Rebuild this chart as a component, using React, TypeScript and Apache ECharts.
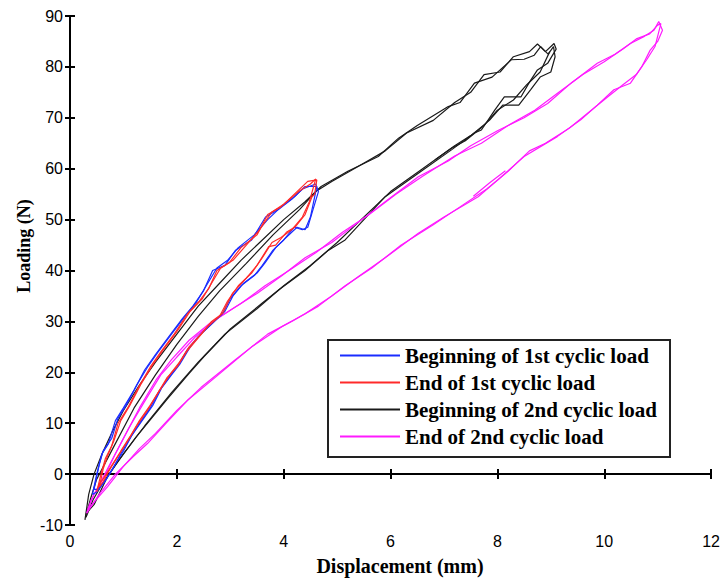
import React, { useEffect, useRef } from "react";
import * as echarts from "echarts";

const xTicks = [0, 2, 4, 6, 8, 10, 12];
const yTicks = [-10, 0, 10, 20, 30, 40, 50, 60, 70, 80, 90];

const seriesNames = [
  "Beginning of 1st cyclic load",
  "End of 1st cyclic load",
  "Beginning of 2nd cyclic load",
  "End of 2nd cyclic load",
];
const seriesColors = ["#1a2cff", "#ff2a2a", "#1a1a1a", "#ff1aff"];

// Beginning of 1st cyclic load (two traced cycles)
const blueCycleA = [
  [0.42, -4], [0.5, 0], [0.6, 4], [0.72, 6], [0.85, 10.5], [1.0, 13], [1.2, 16.5], [1.4, 20.5],
  [1.6, 23.5], [1.85, 27], [2.1, 30.5], [2.3, 33], [2.5, 36], [2.67, 40], [2.9, 41], [3.1, 44],
  [3.4, 46], [3.66, 50.5], [3.9, 52], [4.15, 54], [4.35, 56], [4.6, 57], [4.65, 55.5],
  [4.55, 52], [4.45, 48.5], [4.35, 48], [4.2, 48.5], [4.0, 46], [3.8, 44], [3.6, 41], [3.45, 39],
  [3.2, 37], [3.0, 34.5], [2.85, 31.5], [2.6, 29], [2.4, 27], [2.2, 24.5], [2.0, 21], [1.85, 19],
  [1.68, 16.5], [1.5, 13], [1.3, 10], [1.12, 7], [0.95, 4], [0.8, 1], [0.65, -1.5], [0.5, -3.5], [0.42, -4],
];
const blueCycleB = [
  [0.45, -3], [0.55, 2], [0.62, 4.5], [0.78, 7], [0.9, 11], [1.05, 13.5], [1.25, 17.5], [1.45, 21],
  [1.65, 24], [1.9, 27.5], [2.15, 31], [2.35, 33.5], [2.55, 37], [2.75, 40.5], [2.95, 42], [3.15, 44.5],
  [3.45, 47], [3.7, 50], [3.95, 52.5], [4.2, 54.5], [4.4, 56.5], [4.62, 56.5],
  [4.5, 50.5], [4.4, 48], [4.25, 48.5], [4.05, 46.5], [3.85, 44.5], [3.65, 41.5], [3.5, 39.5], [3.25, 37.5],
  [3.05, 35], [2.9, 32], [2.65, 29.5], [2.45, 27.5], [2.25, 25], [2.05, 21.5], [1.9, 19.5], [1.72, 17],
  [1.55, 13.5], [1.35, 10.5], [1.15, 7.5], [1.0, 4.5], [0.82, 1.5], [0.68, -1], [0.52, -3], [0.45, -3],
];

// End of 1st cyclic load
const redCycleA = [
  [0.5, -3.5], [0.58, 0], [0.66, 3], [0.78, 5.5], [0.9, 10], [1.08, 13], [1.28, 17], [1.5, 21],
  [1.7, 24], [1.95, 27.5], [2.2, 31.5], [2.42, 34], [2.6, 36.5], [2.75, 40], [2.98, 41.5], [3.2, 44.5],
  [3.5, 47], [3.7, 51], [3.95, 52.5], [4.2, 55], [4.45, 57.5], [4.62, 57.8], [4.58, 55],
  [4.53, 54.5], [4.4, 51], [4.22, 48.6], [4.05, 47.5], [3.85, 45], [3.72, 44.7], [3.5, 41], [3.3, 38.5],
  [3.04, 35.5], [2.86, 31.6], [2.65, 30], [2.45, 27.5], [2.23, 25], [2.05, 22], [1.9, 20], [1.68, 16.5],
  [1.5, 13.5], [1.3, 10.5], [1.12, 7.3], [0.95, 4.5], [0.8, 2], [0.65, -0.5], [0.56, -1.8], [0.5, -3.5],
];
const redCycleB = [
  [0.55, -2.5], [0.62, 1], [0.7, 3.5], [0.82, 6.5], [0.95, 10.5], [1.12, 13.5], [1.32, 17.5], [1.55, 21.5],
  [1.75, 24.5], [2.0, 28], [2.25, 32], [2.48, 34.5], [2.65, 37.5], [2.82, 40.5], [3.05, 42], [3.3, 45],
  [3.55, 48], [3.78, 51.5], [4.0, 53], [4.28, 55.5], [4.5, 57], [4.6, 58],
  [4.48, 53.5], [4.35, 50.5], [4.15, 48], [3.95, 46.5], [3.78, 45.5], [3.6, 42.5], [3.4, 39.5], [3.15, 37],
  [2.95, 34], [2.8, 31], [2.58, 29], [2.38, 26.5], [2.18, 24], [2.0, 21], [1.82, 19], [1.62, 15.5],
  [1.45, 12.5], [1.25, 9.5], [1.08, 6.5], [0.9, 3.5], [0.75, 1], [0.62, -1.5], [0.55, -2.5],
];

// Beginning of 2nd cyclic load
const blackCycleA = [
  [0.28, -9], [0.35, -4], [0.45, 0], [0.6, 4], [0.8, 8.5], [1.0, 12.5], [1.3, 17.5], [1.6, 22],
  [2.0, 27.5], [2.4, 33], [2.8, 37.5], [3.2, 42], [3.6, 46], [4.0, 50], [4.4, 53.5], [4.7, 56.5],
  [5.2, 59.5], [5.77, 62.4], [6.15, 66], [6.5, 68.5], [7.08, 72.2], [7.3, 73], [7.57, 76.8], [7.9, 78],
  [8.26, 81.4], [8.5, 81.5], [8.69, 82.3], [8.81, 84], [8.9, 83], [9.06, 84.6], [9.1, 83.5],
  [8.94, 80.7], [8.75, 79.4], [8.6, 77], [8.44, 74.1], [8.13, 74.1], [7.95, 71.5], [7.7, 67.6],
  [7.57, 67], [7.14, 63.7], [6.52, 59.1], [5.9, 54.5], [5.15, 46], [4.84, 44], [4.4, 40], [3.91, 36.2],
  [3.6, 33.6], [3.0, 28.5], [2.5, 23], [2.23, 19.8], [1.8, 14.5], [1.24, 7.3], [0.9, 2.5], [0.6, -2],
  [0.43, -5.1], [0.3, -8.5],
];
const blackCycleB = [
  [0.3, -8], [0.38, -5], [0.5, -1], [0.8, 5], [1.2, 13], [1.6, 19.5], [2.0, 25.5], [2.4, 31],
  [2.8, 36], [3.3, 41.4], [3.8, 47], [4.3, 52], [4.6, 55.5], [4.9, 57.5], [5.4, 60.5], [5.9, 63.5],
  [6.3, 67], [6.8, 69.5], [7.2, 73], [7.5, 75], [7.75, 78.5], [8.05, 79], [8.3, 82], [8.6, 83],
  [8.75, 84.5], [8.95, 82.5], [9.05, 84], [9.08, 82],
  [9.0, 79], [8.8, 78], [8.62, 75.5], [8.4, 72.5], [8.1, 72.5], [7.85, 69.5], [7.5, 66.5], [7.2, 64.5],
  [6.6, 60], [6.0, 55.5], [5.4, 49.5], [5.0, 45.5], [4.5, 41], [4.0, 37], [3.5, 32.5], [2.9, 27.5],
  [2.4, 22], [1.9, 16], [1.4, 9.5], [1.0, 4], [0.7, -0.5], [0.45, -6], [0.32, -7.5],
];
const blackTrace = [
  [6.83, 61.7], [7.14, 64], [7.4, 65.5], [7.75, 68.5], [8.0, 71.5], [8.3, 73.5], [8.55, 76.5], [8.8, 79], [8.98, 83],
];

// End of 2nd cyclic load
const magentaCycleA = [
  [0.31, -7.7], [0.4, -5], [0.56, -1.8], [0.8, 3], [1.05, 8], [1.3, 13], [1.61, 18.5], [1.9, 22.5],
  [2.23, 26.3], [2.6, 29.5], [3.1, 32.9], [3.5, 35.5], [3.97, 39], [4.4, 42.5], [4.9, 45.5], [5.4, 49.5],
  [5.96, 54], [6.52, 58.4], [7.08, 61.5], [7.5, 64.5], [8.01, 67.5], [8.5, 70], [8.94, 72.8], [9.4, 77],
  [9.87, 80.7], [10.2, 82.5], [10.49, 84.6], [10.75, 86], [10.93, 87.2], [11.02, 88.9], [11.09, 87.2],
  [11.0, 85], [10.86, 83.3], [10.7, 80], [10.49, 76.8], [10.18, 75.5], [9.87, 72.5], [9.56, 69.6],
  [9.12, 66.3], [8.5, 62.4], [8.35, 61], [8.01, 57.8], [7.64, 54.5], [7.0, 50.5], [6.52, 47.3],
  [5.9, 42.5], [5.4, 38.8], [4.9, 35], [4.4, 31.5], [3.97, 29], [3.4, 25], [2.73, 19.1], [2.2, 14.5],
  [1.8, 10], [1.45, 6], [1.18, 3.4], [0.85, 0], [0.56, -3.8], [0.31, -7.7],
];
const magentaCycleB = [
  [0.33, -7], [0.45, -4], [0.62, -1], [0.85, 4], [1.1, 9], [1.38, 14], [1.7, 19.5], [2.0, 23],
  [2.35, 27], [2.75, 30.5], [3.2, 33.5], [3.65, 37], [4.1, 40], [4.6, 43.5], [5.1, 47.5], [5.6, 51],
  [6.1, 55], [6.6, 58.5], [7.2, 62.5], [7.7, 65], [8.2, 68.5], [8.7, 71.5], [9.15, 75], [9.6, 78.5],
  [10.0, 81], [10.35, 83.5], [10.6, 85.5], [10.85, 86.5], [11.0, 88.2], [11.06, 88.5],
  [10.95, 84], [10.8, 81.5], [10.6, 78.5], [10.35, 76.5], [10.05, 74], [9.7, 71], [9.35, 68],
  [8.9, 65], [8.6, 63.5], [8.2, 59.5], [7.8, 56], [7.3, 52.5], [6.8, 49], [6.2, 45], [5.65, 40.5],
  [5.15, 37], [4.65, 33], [4.15, 30], [3.7, 27.5], [3.1, 22.5], [2.45, 17], [2.0, 12.5], [1.6, 8],
  [1.3, 5], [1.0, 1.5], [0.7, -2.5], [0.45, -5.5], [0.33, -7],
];
const magentaTrace = [
  [7.55, 54.6], [7.85, 57.2], [8.15, 59.6],
];

const seriesData = [
  { idx: 0, data: blueCycleA },
  { idx: 0, data: blueCycleB },
  { idx: 1, data: redCycleA },
  { idx: 1, data: redCycleB },
  { idx: 2, data: blackCycleA },
  { idx: 2, data: blackCycleB },
  { idx: 2, data: blackTrace },
  { idx: 3, data: magentaCycleA },
  { idx: 3, data: magentaCycleB },
  { idx: 3, data: magentaTrace },
];

const serif = '"Liberation Serif", "Times New Roman", serif';
const sans = '"Liberation Sans", Arial, sans-serif';

export default function App() {
  const ref = useRef<HTMLDivElement>(null);
  useEffect(() => {
    if (!ref.current) return;
    const chart = echarts.init(ref.current, null, { renderer: "svg" });
    const axisLine = { show: true, lineStyle: { color: "#000", width: 2 } };
    const axisTick = { show: true, inside: true, length: 5, lineStyle: { color: "#000", width: 2 } };
    const order = [2, 3, 0, 1];
    const series = order.flatMap((k) =>
      seriesData
        .filter((s) => s.idx === k)
        .map((s) => ({
          type: "line",
          name: seriesNames[k],
          data: s.data,
          showSymbol: false,
          symbol: "none",
          smooth: false,
          lineStyle: { color: seriesColors[k], width: 1.2 },
          itemStyle: { color: seriesColors[k] },
          emphasis: { disabled: true },
        }))
    );
    chart.setOption({
      animation: false,
      backgroundColor: "#fff",
      grid: { left: 70, right: 9, top: 16, bottom: 54, containLabel: false },
      xAxis: [
        {
          type: "value", min: xTicks[0], max: xTicks[xTicks.length - 1], interval: 2, position: "bottom",
          axisLine, axisTick, splitLine: { show: false },
          axisLabel: { fontFamily: sans, fontSize: 16, color: "#000", margin: 8 },
        },
        {
          type: "value", min: xTicks[0], max: xTicks[xTicks.length - 1], interval: 2, position: "top",
          axisLine, axisTick, splitLine: { show: false }, axisLabel: { show: false },
        },
      ],
      yAxis: [
        {
          type: "value", min: yTicks[0], max: yTicks[yTicks.length - 1], interval: 10, position: "left",
          axisLine, axisTick, splitLine: { show: false },
          axisLabel: { fontFamily: sans, fontSize: 16, color: "#000", margin: 7 },
        },
        {
          type: "value", min: yTicks[0], max: yTicks[yTicks.length - 1], interval: 10, position: "right",
          axisLine, axisTick, splitLine: { show: false }, axisLabel: { show: false },
        },
      ],
      legend: {
        data: seriesNames,
        orient: "vertical",
        left: 340,
        top: 345,
        padding: 0,
        itemWidth: 60,
        itemHeight: 2,
        itemGap: 6,
        icon: "rect",
        selectedMode: false,
        textStyle: { fontFamily: serif, fontWeight: "bold", fontSize: 21, lineHeight: 21, color: "#000" },
        z: 10,
      },
      graphic: [
        {
          type: "rect",
          shape: { x: 328, y: 340, width: 342, height: 117 },
          style: { fill: "#fff", stroke: "#222", lineWidth: 2 },
          z: 5,
        },
        {
          type: "text",
          x: 24,
          y: 246,
          rotation: Math.PI / 2,
          style: {
            text: "Loading (N)", fontFamily: serif, fontWeight: "bold", fontSize: 18, fill: "#000",
            align: "center", verticalAlign: "middle",
          },
        },
        {
          type: "text",
          x: 400,
          y: 566,
          style: {
            text: "Displacement (mm)", fontFamily: serif, fontWeight: "bold", fontSize: 20, fill: "#000",
            align: "center", verticalAlign: "middle",
          },
        },
      ],
      series,
    });
    return () => chart.dispose();
  }, []);
  return (
    <div
      ref={ref}
      style={{ position: "fixed", left: 0, top: 0, width: 723, height: 579, background: "#fff" }}
    />
  );
}
